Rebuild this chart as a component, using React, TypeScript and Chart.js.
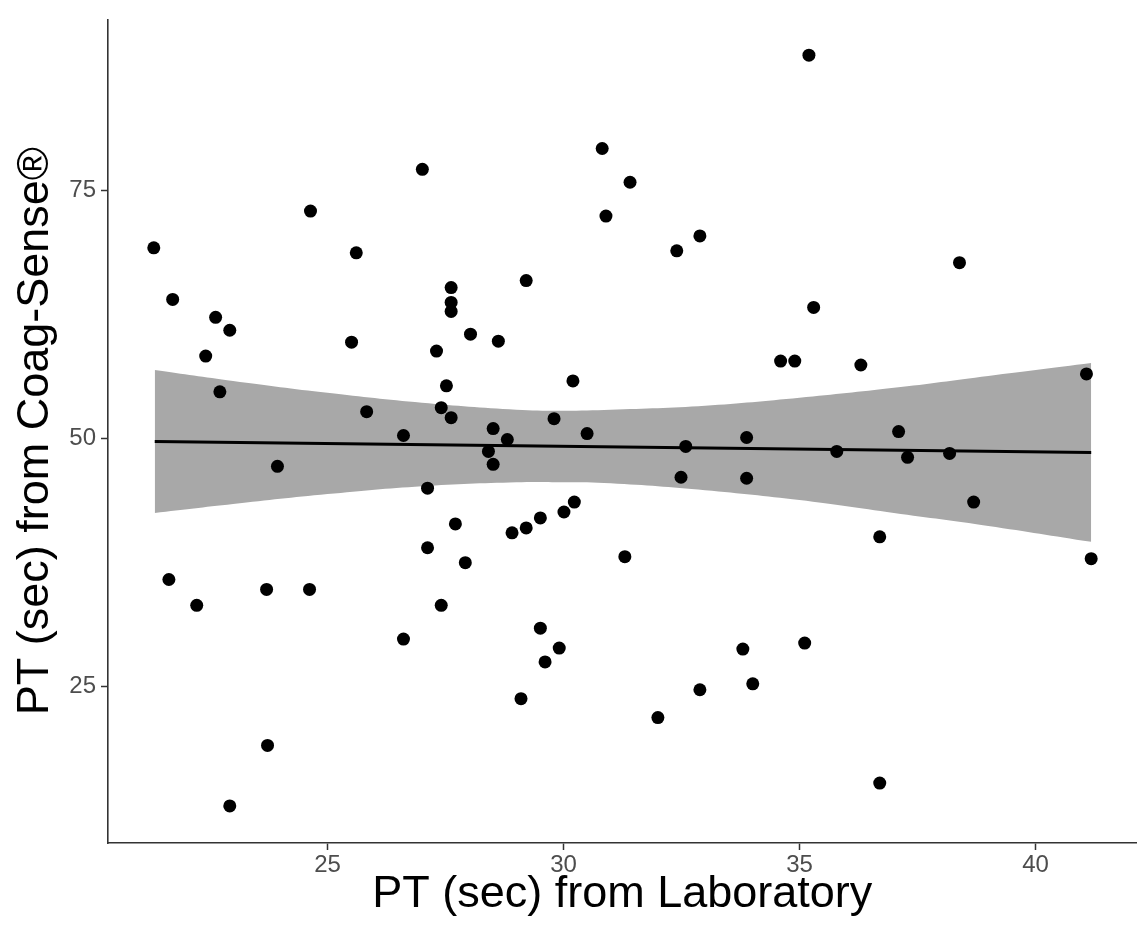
import React, { useEffect, useRef } from "react";
import { Chart, registerables } from "chart.js";

Chart.register(...registerables);

// PT (sec) from Laboratory
const labPT = [
  21.32, 21.72, 22.63, 22.93, 22.42, 22.72, 21.64, 22.23, 23.71, 24.62,
  23.94, 23.73, 22.93, 24.64, 25.61, 25.51, 25.83, 26.61, 26.61, 27.01,
  27.31, 27.62, 27.62, 27.62, 28.03, 28.62, 27.52, 27.41, 27.62, 28.51,
  28.81, 28.41, 28.51, 27.12, 27.71, 27.12, 27.92, 27.41, 29.21, 29.8,
  30.2, 30.5, 30.23, 30.01, 29.51, 29.21, 28.91, 29.51, 29.91, 29.61,
  29.1, 30.82, 31.41, 30.9, 32.89, 32.4, 31.3, 32.59, 32.49, 33.88,
  33.88, 32.0, 32.89, 33.8, 34.01, 35.2, 38.39, 35.3, 34.6, 34.9,
  36.3, 41.08, 37.1, 35.79, 37.29, 38.18, 38.69, 36.7, 41.18, 35.11,
  36.7,
];

// PT (sec) from Coag-Sense
const coagPT = [
  69.2, 64.0, 62.2, 60.9, 58.3, 54.7, 35.8, 33.2, 34.8, 34.8,
  47.2, 19.1, 13.0, 72.9, 68.7, 59.7, 52.7, 50.3, 29.8, 77.1,
  58.8, 65.2, 63.7, 62.8, 60.5, 59.8, 55.3, 53.1, 52.1, 51.0,
  49.9, 48.7, 47.4, 45.0, 41.4, 39.0, 37.5, 33.2, 65.9, 52.0,
  55.8, 50.5, 43.6, 42.6, 42.0, 41.0, 40.5, 30.9, 28.9, 27.5,
  23.8, 79.2, 75.8, 72.4, 70.4, 68.9, 38.1, 49.2, 46.1, 50.1,
  46.0, 21.9, 24.7, 28.8, 25.3, 88.6, 67.7, 63.2, 57.8, 57.8,
  57.4, 56.5, 50.7, 48.7, 48.1, 48.5, 43.6, 40.1, 37.9, 29.4,
  15.3,
];

// fitted line
const fitX = [21.34, 41.18];
const fitY = [49.7, 48.6];

// confidence band
const bandX = [21.34, 23, 25, 27, 29, 30, 31, 33, 35, 37, 39, 41.18];
const bandUpper = [56.9, 55.8, 54.6, 53.6, 52.9, 52.8, 52.9, 53.3, 54.1, 55.1, 56.3, 57.6];
const bandLower = [42.5, 43.4, 44.4, 45.2, 45.6, 45.6, 45.5, 44.8, 43.8, 42.5, 41.2, 39.6];

const xTicks = [25, 30, 35, 40];
const yTicks = [25, 50, 75];

const X_MIN = 20.35;
const X_MAX = 42.14;
const Y_MIN = 9.27;
const Y_MAX = 92.2;

const FONT = "'Liberation Sans', Arial, sans-serif";

export default function App() {
  const canvasRef = useRef<HTMLCanvasElement | null>(null);

  useEffect(() => {
    const canvas = canvasRef.current;
    if (!canvas) return;
    const pts = labPT.map((x, i) => ({ x, y: coagPT[i] }));
    const chart = new Chart(canvas, {
      type: "scatter",
      data: {
        datasets: [
          {
            label: "points",
            data: pts,
            backgroundColor: "#000000",
            borderColor: "#000000",
            pointRadius: 6.5,
            pointBorderWidth: 0,
            showLine: false,
          },
          {
            label: "fit",
            data: fitX.map((x, i) => ({ x, y: fitY[i] })),
            showLine: true,
            borderColor: "#000000",
            borderWidth: 3,
            pointRadius: 0,
            fill: false,
          },
          {
            label: "upper",
            data: bandX.map((x, i) => ({ x, y: bandUpper[i] })),
            showLine: true,
            borderWidth: 0,
            borderColor: "rgba(0,0,0,0)",
            backgroundColor: "#a8a8a8",
            pointRadius: 0,
            tension: 0.4,
            fill: "+1",
          },
          {
            label: "lower",
            data: bandX.map((x, i) => ({ x, y: bandLower[i] })),
            showLine: true,
            borderWidth: 0,
            borderColor: "rgba(0,0,0,0)",
            pointRadius: 0,
            tension: 0.4,
            fill: false,
          },
        ],
      },
      options: {
        animation: false,
        responsive: true,
        maintainAspectRatio: false,
        layout: { padding: { left: 0, top: 19, right: 3, bottom: 0 } },
        plugins: {
          legend: { display: false },
          tooltip: { enabled: false },
        },
        scales: {
          x: {
            type: "linear",
            min: X_MIN,
            max: X_MAX,
            afterBuildTicks: (scale: any) => {
              scale.ticks = xTicks.map((v) => ({ value: v }));
            },
            afterFit: (scale: any) => {
              scale.height = 90;
            },
            grid: {
              drawOnChartArea: false,
              drawTicks: true,
              tickLength: 7,
              tickWidth: 1.5,
              tickColor: "#333333",
            },
            border: { display: true, color: "#333333", width: 1.6 },
            ticks: {
              color: "#4d4d4d",
              font: { family: FONT, size: 24 },
              padding: 1,
              maxRotation: 0,
            },
            title: {
              display: true,
              text: "PT (sec) from Laboratory",
              color: "#000000",
              font: { family: FONT, size: 45 },
              padding: { top: 0, bottom: 11 },
            },
          },
          y: {
            type: "linear",
            min: Y_MIN,
            max: Y_MAX,
            afterBuildTicks: (scale: any) => {
              scale.ticks = yTicks.map((v) => ({ value: v }));
            },
            afterFit: (scale: any) => {
              scale.width = 108;
            },
            grid: {
              drawOnChartArea: false,
              drawTicks: true,
              tickLength: 7,
              tickWidth: 1.5,
              tickColor: "#333333",
            },
            border: { display: true, color: "#333333", width: 1.6 },
            ticks: {
              color: "#4d4d4d",
              font: { family: FONT, size: 24 },
              padding: 5,
            },
            title: {
              display: true,
              text: "PT (sec) from Coag-Sense®",
              color: "#000000",
              font: { family: FONT, size: 45 },
              padding: { top: 9, bottom: 0 },
            },
          },
        },
      },
    });
    return () => chart.destroy();
  }, []);

  return (
    <div
      style={{
        position: "absolute",
        left: 0,
        top: 0,
        width: 1143,
        height: 933,
        background: "#ffffff",
      }}
    >
      <canvas ref={canvasRef} />
    </div>
  );
}
